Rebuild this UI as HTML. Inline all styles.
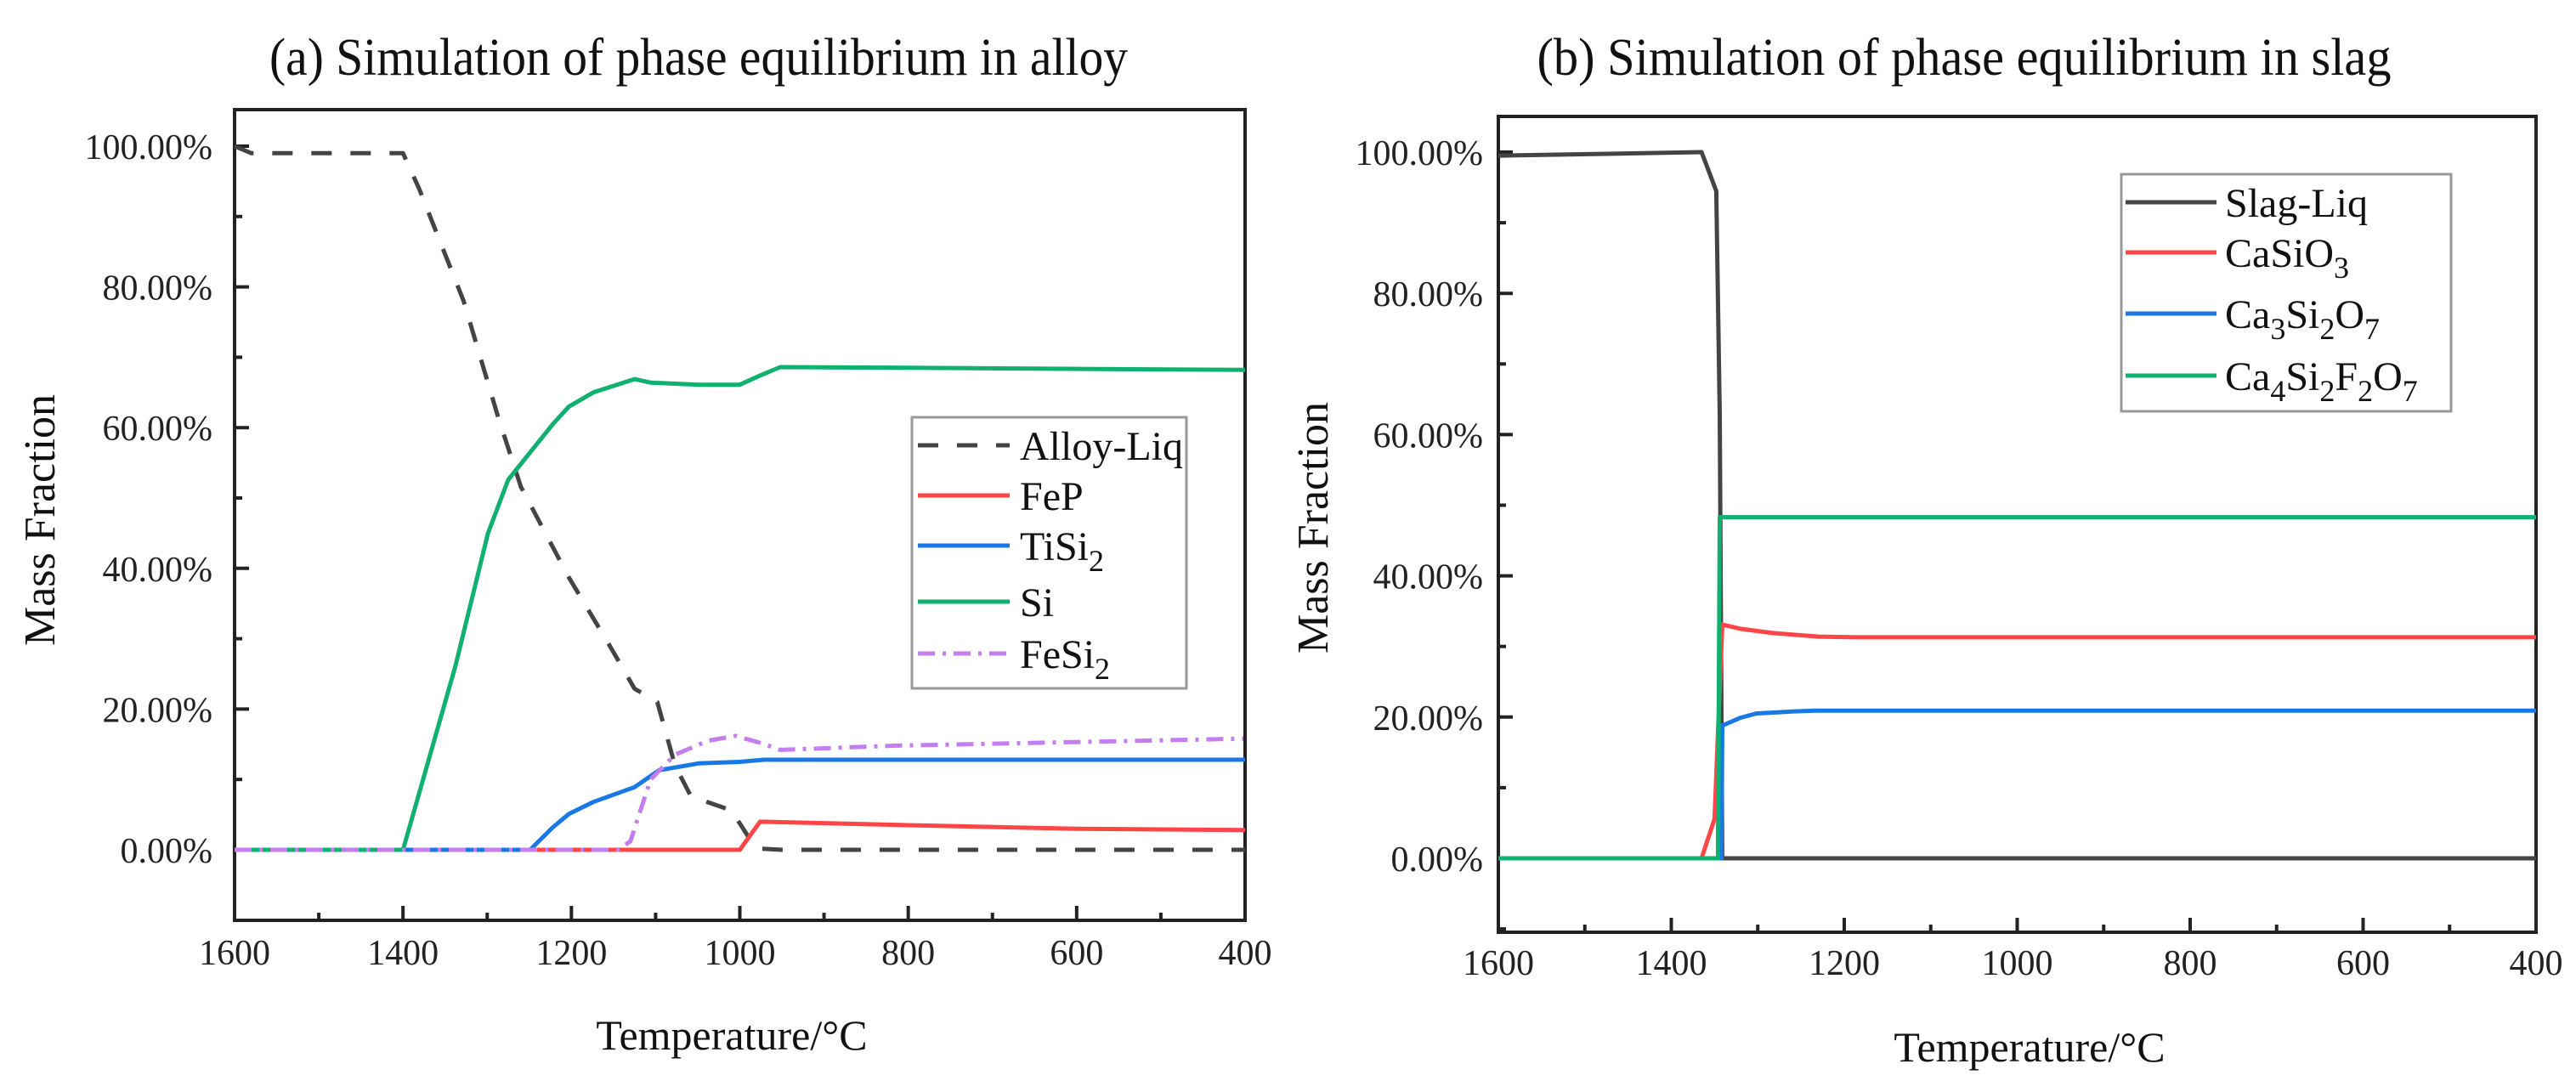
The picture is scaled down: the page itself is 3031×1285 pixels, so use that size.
<!DOCTYPE html>
<html><head><meta charset="utf-8"><style>
html,body{margin:0;padding:0;background:#fff;}
svg{display:block;font-family:"Liberation Serif","Times New Roman",serif;}
</style></head><body>
<svg id="fig" width="3031" height="1285" viewBox="0 0 3031 1285" xmlns="http://www.w3.org/2000/svg">
<rect width="3031" height="1285" fill="#fff"/>
<text x="822" y="88" font-size="62" text-anchor="middle" textLength="1010" lengthAdjust="spacingAndGlyphs" fill="#111">(a)  Simulation of phase equilibrium in alloy</text>
<text x="2311" y="88" font-size="62" text-anchor="middle" textLength="1005" lengthAdjust="spacingAndGlyphs" fill="#111">(b)   Simulation of phase equilibrium in slag</text>
<g id="pa"></g>
<g id="pb"></g>
</svg>
<script>
// ---- Chart (a) data ----
const tempTicks = [1600,1400,1200,1000,800,600,400];
const pctTicks = [0,20,40,60,80,100];
const aLiqT = [1600,1580,1400,1381,1328,1287,1260,1203,1154,1125,1098,1077,1058,1010,981,950,400];
const aLiqV = [100,99,99,94,78,61.5,51.6,38.7,28.9,22.9,21,12,7.6,5.6,0.2,0,0];
const aFePT = [1600,1000,976,800,600,400];
const aFePV = [0,0,4.0,3.5,3.0,2.8];
const aTiT = [1600,1249,1222,1203,1174,1125,1096,1048,1000,971,400];
const aTiV = [0,0,3.2,5.1,6.8,8.9,11.3,12.3,12.5,12.8,12.8];
const aSiT = [1600,1400,1338,1299,1275,1222,1203,1174,1125,1106,1048,1000,976,952,800,400];
const aSiV = [0,0,26,45,52.6,60.5,63,65,66.9,66.4,66.1,66.1,67.4,68.6,68.5,68.2];
const aFeSiT = [1600,1145,1130,1106,1077,1038,1005,976,952,817,402];
const aFeSiV = [0,0,1.2,10,13.5,15.5,16.2,15.2,14.2,14.8,15.8];
// ---- Chart (b) data ----
const bLiqT = [1600,1365,1348,1344,1341,400];
const bLiqV = [99.5,100,94.5,62.9,0,0];
const bCaSiO3T = [1600,1365,1350,1341,1320,1283,1230,1187,400];
const bCaSiO3V = [0,0,5.6,33.1,32.5,31.9,31.4,31.3,31.3];
const bC3T = [1600,1342,1341,1320,1302,1260,1235,400];
const bC3V = [0,0,18.8,19.9,20.5,20.8,20.9,20.9];
const bC4T = [1600,1346,1344,400];
const bC4V = [0,0,48.3,48.3];

const NS="http://www.w3.org/2000/svg";
function mk(tag,attrs,parent){const e=document.createElementNS(NS,tag);for(const k in attrs)e.setAttribute(k,attrs[k]);parent.appendChild(e);return e;}

function chart(g,cfg){
  const X=t=>cfg.x0+(1600-t)/1200*(cfg.x1-cfg.x0);
  const Y=v=>cfg.yz-(v/100)*(cfg.yz-cfg.yh);
  const fr=mk('rect',{x:cfg.x0,y:cfg.top,width:cfg.x1-cfg.x0,height:cfg.bot-cfg.top,fill:'none',stroke:'#222','stroke-width':4},g);
  
  
  for(let v=-10;v<=100;v+=10){
    const y=Y(v); if(y>cfg.bot-2||y<cfg.top+2) continue;
    const major=v%20===0;
    const t=mk('line',{x1:cfg.x0,x2:cfg.x0+(major?17:9),y1:y,y2:y,stroke:'#222','stroke-width':4},g);
    
    
  }
  pctTicks.forEach(v=>{
    const tx=mk('text',{x:cfg.lblR,y:Y(v)+15,'font-size':42,'text-anchor':'end',fill:'#222'},g);
    tx.textContent=v.toFixed(2)+'%';
    
    
  });
  for(let t=1600;t>=400;t-=100){
    const x=X(t); const major=t%200===0;
    if(t===1600||t===400) continue;
    const l=mk('line',{x1:x,x2:x,y1:cfg.bot,y2:cfg.bot-(major?17:9),stroke:'#222','stroke-width':4},g);
    
    
  }
  tempTicks.forEach(t=>{
    const tx=mk('text',{x:X(t),y:cfg.xlblY,'font-size':42,'text-anchor':'middle',fill:'#222'},g);
    tx.textContent=t;
    
    
  });
  const xt=mk('text',{x:cfg.xtX,y:cfg.xtY,'font-size':50,'text-anchor':'middle',fill:'#111'},g);
  xt.textContent='Temperature/°C';
  
  
  const yt=mk('text',{x:0,y:0,'font-size':52,'text-anchor':'middle',fill:'#111',transform:`translate(${cfg.ytX},${cfg.ytY}) rotate(-90)`},g);
  yt.textContent='Mass Fraction';
  
  
  cfg.series.forEach(s=>{
    const d=s.t.map((t,i)=>(i?'L':'M')+X(t).toFixed(1)+' '+Y(s.v[i]).toFixed(1)).join(' ');
    const p=mk('path',{d:d,fill:'none',stroke:s.c,'stroke-width':5,'stroke-linejoin':'round'},g);
    if(s.dash) p.setAttribute('stroke-dasharray',s.dash);
    
    
  });
  const L=cfg.leg;
  const lb=mk('rect',{x:L.x0,y:L.y0,width:L.x1-L.x0,height:L.y1-L.y0,fill:'#fff',stroke:'#999','stroke-width':3},g);
  
  
  cfg.series.forEach((s,i)=>{
    const y=L.rows[i];
    const ln=mk('line',{x1:L.lx0,x2:L.lx1,y1:y,y2:y,stroke:s.c,'stroke-width':5},g);
    if(s.dash) ln.setAttribute('stroke-dasharray',s.dash);
    
    
    const tx=mk('text',{x:L.tx,y:y+17,'font-size':L.fs,fill:'#111'},g);
    
    
    s.label.forEach(part=>{
      const ts=mk('tspan',{},tx);
      if(part[1]){ts.setAttribute('font-size',L.fs*0.75);ts.setAttribute('dy',13);}
      else if(part[2]){ts.setAttribute('dy',-13);}
      ts.textContent=part[0];
    });
  });
}
function lbl(str){
  const out=[];let prevSub=false;
  for(const ch of str){const sub=/[0-9]/.test(ch);
    if(out.length&&((sub&&!prevSub)||(!sub&&prevSub))){out.push([ch,sub,!sub]);}
    else if(out.length){out[out.length-1][0]+=ch;}
    else out.push([ch,sub,false]);
    prevSub=sub;}
  return out;
}
chart(document.getElementById('pa'),{
  x0:276,x1:1465,top:129,bot:1083,yz:1000,yh:172,lblR:250,xlblY:1135,
  xtX:861,xtY:1235,ytX:64,ytY:612,
  leg:{x0:1073,x1:1396,y0:491,y1:810,rows:[524,583,642,708,769],lx0:1080,lx1:1188,tx:1200,fs:48},
  series:[
    {name:'alloy-liq',t:aLiqT,v:aLiqV,c:'#444',dash:'24 22',label:[['Alloy-Liq',false,false]]},
    {name:'fep',t:aFePT,v:aFePV,c:'#ff4545',label:[['FeP',false,false]]},
    {name:'tisi2',t:aTiT,v:aTiV,c:'#1a78e6',label:lbl('TiSi2')},
    {name:'si',t:aSiT,v:aSiV,c:'#10b070',label:[['Si',false,false]]},
    {name:'fesi2',t:aFeSiT,v:aFeSiV,c:'#c57ef0',dash:'20 9 4 9',label:lbl('FeSi2')}
  ]
});
chart(document.getElementById('pb'),{
  x0:1763,x1:2984,top:137,bot:1097,yz:1010,yh:179,lblR:1745,xlblY:1147,
  xtX:2388,xtY:1249,ytX:1562,ytY:621,
  leg:{x0:2496,x1:2884,y0:205,y1:484,rows:[238,297,369,442],lx0:2501,lx1:2608,tx:2618,fs:48},
  series:[
    {name:'slag-liq',t:bLiqT,v:bLiqV,c:'#444',label:[['Slag-Liq',false,false]]},
    {name:'casio3',t:bCaSiO3T,v:bCaSiO3V,c:'#ff4545',label:lbl('CaSiO3')},
    {name:'ca3si2o7',t:bC3T,v:bC3V,c:'#1a78e6',label:lbl('Ca3Si2O7')},
    {name:'ca4si2f2o7',t:bC4T,v:bC4V,c:'#10b070',label:lbl('Ca4Si2F2O7')}
  ]
});
</script>
</body></html>
